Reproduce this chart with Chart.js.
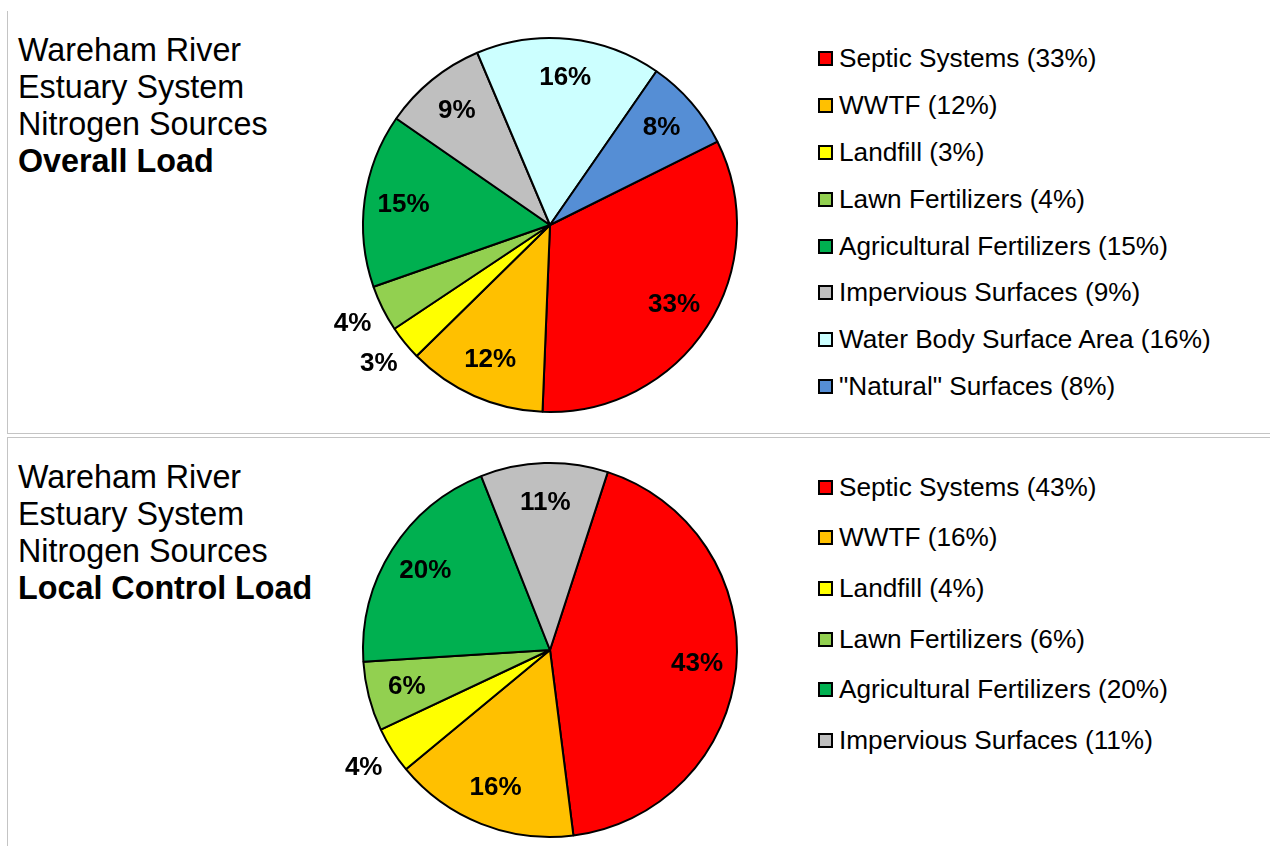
<!DOCTYPE html>
<html>
<head>
<meta charset="utf-8">
<script src="https://cdn.jsdelivr.net/npm/chart.js@4/dist/chart.umd.min.js"></script>
<style>
  html, body { margin: 0; padding: 0; background: #fff; }
  body { width: 1270px; height: 846px; position: relative; overflow: hidden;
         font-family: "Liberation Sans", Arial, sans-serif; color: #000; }
  .panel { position: absolute; border: 1px solid #c4c4c4; border-right: none; }
  .title { position: absolute; left: 18px; font-size: 32.3px; line-height: 37px; white-space: nowrap; }
  .title b { font-weight: bold; }
  .legend { position: absolute; left: 818px; font-size: 26.2px; white-space: nowrap; }
  .legend .row { display: flex; align-items: center; }
  .legend .sw { width: 11px; height: 11px; border: 2px solid #000; margin-right: 6px; flex: none; }
  canvas { position: absolute; }
</style>
</head>
<body>
<div class="panel" style="left:7px; top:11px; width:1270px; height:422px; border-top:none;"></div>
<div class="panel" style="left:7px; top:437px; width:1270px; height:420px; border-bottom:none;"></div>

<div class="title" style="top:32px;">Wareham River<br>Estuary System<br>Nitrogen Sources<br><b>Overall Load</b></div>
<div class="title" style="top:459px;">Wareham River<br>Estuary System<br>Nitrogen Sources<br><b>Local Control Load</b></div>

<div id="legendTop" class="legend" style="top:35px;"></div>
<div id="legendBottom" class="legend" style="top:462px;"></div>

<canvas id="pieTop" width="480" height="440" style="left:310px; top:5px;"></canvas>
<canvas id="pieBottom" width="480" height="440" style="left:310px; top:430px;"></canvas>

<script>
// ---- Data ----
const overallLabels = ["Septic Systems", "WWTF", "Landfill", "Lawn Fertilizers",
  "Agricultural Fertilizers", "Impervious Surfaces", "Water Body Surface Area", "\"Natural\" Surfaces"];
const overallValues = [33, 12, 3, 4, 15, 9, 16, 8];

const localLabels = ["Septic Systems", "WWTF", "Landfill", "Lawn Fertilizers",
  "Agricultural Fertilizers", "Impervious Surfaces"];
const localValues = [43, 16, 4, 6, 20, 11];

// ---- Styles ----
const sliceColors = ["#FF0000", "#FFC000", "#FFFF00", "#92D050", "#00B050", "#BFBFBF", "#CCFFFF", "#558ED5"];

function buildLegend(id, labels, values, rowHeight) {
  const el = document.getElementById(id);
  labels.forEach((lab, i) => {
    const row = document.createElement('div');
    row.className = 'row';
    row.style.height = rowHeight + 'px';
    const sw = document.createElement('span');
    sw.className = 'sw';
    sw.style.background = sliceColors[i];
    const tx = document.createElement('span');
    tx.textContent = lab + ' (' + values[i] + '%)';
    row.appendChild(sw); row.appendChild(tx);
    el.appendChild(row);
  });
}
buildLegend('legendTop', overallLabels, overallValues, 46.9);
buildLegend('legendBottom', localLabels, localValues, 50.6);

const pctLabels = {
  id: 'pctLabels',
  afterDatasetsDraw(chart) {
    const ctx = chart.ctx;
    const meta = chart.getDatasetMeta(0);
    const vals = chart.data.datasets[0].data;
    ctx.save();
    ctx.font = 'bold 26px "Liberation Sans", Arial, sans-serif';
    ctx.fillStyle = '#000';
    ctx.textAlign = 'center';
    ctx.textBaseline = 'middle';
    meta.data.forEach((arc, i) => {
      const p = arc.getProps(['x', 'y', 'startAngle', 'endAngle', 'outerRadius'], true);
      const mid = (p.startAngle + p.endAngle) / 2;
      const r = vals[i] < 5 ? p.outerRadius * 1.18 : p.outerRadius * 0.79;
      ctx.fillText(vals[i] + '%', p.x + Math.cos(mid) * r, p.y + Math.sin(mid) * r);
    });
    ctx.restore();
  }
};

function makePie(id, labels, values, rotation) {
  new Chart(document.getElementById(id), {
    type: 'pie',
    data: {
      labels: labels,
      datasets: [{
        data: values,
        backgroundColor: sliceColors.slice(0, values.length),
        borderColor: '#000',
        borderWidth: 2
      }]
    },
    options: {
      responsive: false,
      animation: false,
      rotation: rotation,
      radius: 187,
      plugins: { legend: { display: false }, tooltip: { enabled: false } }
    },
    plugins: [pctLabels]
  });
}
makePie('pieTop', overallLabels, overallValues, 63.5);
makePie('pieBottom', localLabels, localValues, 18);
</script>
</body>
</html>
